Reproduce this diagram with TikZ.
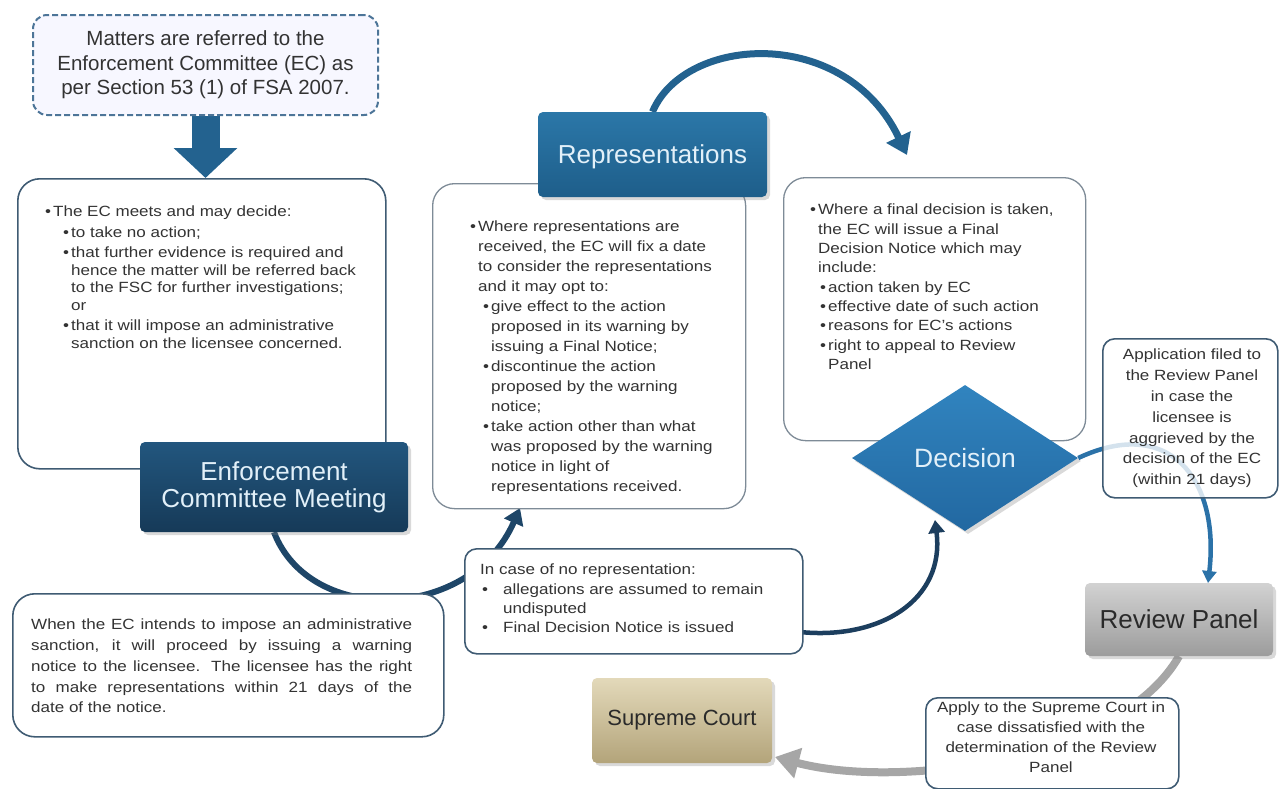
\documentclass[tikz,border=0pt]{standalone}
\usepackage{fontspec}
\setmainfont{Liberation Sans}
\newfontfamily\bodyfont[FakeStretch=1.15]{Liberation Sans}
\usetikzlibrary{arrows.meta, shapes.geometric, shadows, backgrounds}

\definecolor{framecol}{HTML}{3F5B73}
\definecolor{softframe}{HTML}{7E8B97}
\definecolor{dashcol}{HTML}{4D7598}
\definecolor{bodytext}{HTML}{333333}
\definecolor{pale}{HTML}{E2F0F9}
\definecolor{arcnavy}{HTML}{1E4668}
\definecolor{arcblue}{HTML}{23628F}
\definecolor{arcdeep}{HTML}{1C3E5E}
\definecolor{linkblue}{HTML}{2B72A8}
\definecolor{greyarc}{HTML}{A6A6A6}

\newcommand{\bul}{\textbullet\hspace{2pt}}
\newcommand{\wbul}{\makebox[23pt][l]{\hspace{2pt}\textbullet}}

\begin{document}
\begin{tikzpicture}[x=1pt,y=-1pt]
\tikzset{
  panel/.style={draw=framecol, line width=1.6pt, fill=white, rounded corners=22pt, anchor=north west, inner sep=0pt},
  softpanel/.style={panel, draw=softframe, line width=1.3pt},
  smallpanel/.style={panel, rounded corners=12pt},
  body/.style={font=\bodyfont\fontsize{14.8}{20}\selectfont, text=bodytext, align=left, inner sep=0pt, anchor=north west},
  heading/.style={font=\fontsize{26}{27}\selectfont, text=pale, align=center, rounded corners=5pt, inner sep=0pt,
    drop shadow={opacity=0.3, shadow xshift=3pt, shadow yshift=-3pt}},
  bigarrow/.style={line width=28pt, draw=arcblue, -{Triangle[width=62pt,length=30pt]}},
  arcone/.style={line width=6pt, draw=arcnavy, -{Triangle[width=20pt,length=16pt]}},
  arctop/.style={line width=7pt, draw=arcblue, -{Triangle[width=26pt,length=20pt]}},
  arcthree/.style={line width=4.5pt, draw=arcdeep, -{Triangle[width=16pt,length=13pt]}},
  declink/.style={line width=4.5pt, draw=linkblue, -{Triangle[width=14pt,length=12pt]}},
  greylink/.style={line width=8pt, draw=greyarc, -{Triangle[width=30pt,length=24pt]}}
}
\useasboundingbox (0,0) rectangle (1279,788);

\node[draw=dashcol, line width=2pt, dash pattern=on 6pt off 3pt, fill=blue!3, rounded corners=14pt,
  minimum width=345pt, minimum height=100pt, inner sep=0pt, text=bodytext, align=center,
  font=\fontsize{20.5}{24.5}\selectfont] (matters) at (205.5,65)
  {Matters are referred to the\\Enforcement Committee (EC) as\\per Section 53 (1) of FSA 2007.};

\node[panel, minimum width=368pt, minimum height=290pt] (ecbox) at (17,178) {};
\node[body, font=\bodyfont\fontsize{14.8}{17.5}\selectfont] (ectext) at (45,206)
  {\bul The EC meets and may decide:\\[3pt]
   \hspace*{18pt}\bul to take no action;\\[3pt]
   \hspace*{18pt}\bul that further evidence is required and\\
   \hspace*{26pt}hence the matter will be referred back\\
   \hspace*{26pt}to the FSC for further investigations;\\
   \hspace*{26pt}or\\[3pt]
   \hspace*{18pt}\bul that it will impose an administrative\\
   \hspace*{26pt}sanction on the licensee concerned.};

\node[softpanel, minimum width=313pt, minimum height=325pt] (repbox) at (432,183) {};
\node[body] (reptext) at (470,221)
  {\bul Where representations are\\
   \hspace*{8pt}received, the EC will fix a date\\
   \hspace*{8pt}to consider the representations\\
   \hspace*{8pt}and it may opt to:\\
   \hspace*{13pt}\bul give effect to the action\\
   \hspace*{21pt}proposed in its warning by\\
   \hspace*{21pt}issuing a Final Notice;\\
   \hspace*{13pt}\bul discontinue the action\\
   \hspace*{21pt}proposed by the warning\\
   \hspace*{21pt}notice;\\
   \hspace*{13pt}\bul take action other than what\\
   \hspace*{21pt}was proposed by the warning\\
   \hspace*{21pt}notice in light of\\
   \hspace*{21pt}representations received.};

\node[softpanel, minimum width=302pt, minimum height=263pt] (decbox) at (783,177) {};
\node[body, font=\bodyfont\fontsize{14.8}{19.3}\selectfont] (dectext) at (810,204)
  {\bul Where a final decision is taken,\\
   \hspace*{8pt}the EC will issue a Final\\
   \hspace*{8pt}Decision Notice which may\\
   \hspace*{8pt}include:\\
   \hspace*{10pt}\bul action taken by EC\\
   \hspace*{10pt}\bul effective date of such action\\
   \hspace*{10pt}\bul reasons for EC’s actions\\
   \hspace*{10pt}\bul right to appeal to Review\\
   \hspace*{18pt}Panel};

\node[panel, minimum width=431pt, minimum height=143pt] (warnbox) at (12,593) {};
\node[body, text width=381pt, align=justify, font=\bodyfont\fontsize{14.8}{20.7}\selectfont] (warntext) at (31,619)
  {When the EC intends to impose an administrative\linebreak
   sanction, it will proceed by issuing a warning\linebreak
   notice to the licensee. The licensee has the right\linebreak
   to make representations within 21 days of the\linebreak
   date of the notice.};

\node[smallpanel, minimum width=338pt, minimum height=105pt] (norep) at (464,548) {};
\node[body, font=\bodyfont\fontsize{14.8}{19.2}\selectfont] (noreptext) at (480,564)
  {In case of no representation:\\
   \wbul allegations are assumed to remain\\
   \hspace*{23pt}undisputed\\
   \wbul Final Decision Notice is issued};

\node[smallpanel, fill opacity=0.8, minimum width=175pt, minimum height=159pt] (appbox) at (1102,338) {};
\node[body, anchor=north, align=center, font=\bodyfont\fontsize{14.8}{20.8}\selectfont] (apptext) at (1192,349)
  {Application filed to\\the Review Panel\\in case the\\licensee is\\aggrieved by the\\decision of the EC\\(within 21 days)};

\node[smallpanel, minimum width=253pt, minimum height=91pt] (applybox) at (925,697) {};
\node[body, anchor=north, align=center, font=\bodyfont\fontsize{14.8}{19.7}\selectfont] (applytext) at (1051,702)
  {Apply to the Supreme Court in\\case dissatisfied with the\\determination of the Review\\Panel};

\node[heading, minimum width=268pt, minimum height=90pt,
  top color={rgb,255:red,34;green,86;blue,126}, bottom color={rgb,255:red,22;green,58;blue,88}] (ecm) at (274,487)
  {Enforcement\\Committee Meeting};
\node[heading, minimum width=229pt, minimum height=85pt, text depth=0pt,
  top color={rgb,255:red,43;green,119;blue,168}, bottom color={rgb,255:red,30;green,94;blue,138}] (reptitle) at (652.5,154.5)
  {Representations};
\node[heading, diamond, rounded corners=0pt, aspect=1.55, minimum width=226pt, minimum height=146pt,
  font=\fontsize{26.5}{28}\selectfont,
  top color={rgb,255:red,49;green,132;blue,191}, bottom color={rgb,255:red,34;green,104;blue,161}] (dec) at (965,458)
  {Decision};
\node[heading, text={rgb,255:red,42;green,42;blue,42}, minimum width=188pt, minimum height=73pt,
  top color={rgb,255:red,210;green,210;blue,210}, bottom color={rgb,255:red,156;green,156;blue,156}] (review) at (1179,619.5)
  {Review Panel};
\node[heading, text={rgb,255:red,42;green,42;blue,42}, font=\fontsize{22}{24}\selectfont, minimum width=180pt, minimum height=85pt,
  top color={rgb,255:red,227;green,217;blue,186}, bottom color={rgb,255:red,179;green,164;blue,122}] (court) at (682,720.5)
  {Supreme Court};

\coordinate (repin) at (520,508);
\coordinate (decin) at (907,155);
\coordinate (norepout) at (800,632);
\coordinate (diamin) at (935,520);
\coordinate (revin) at (1208,583);
\coordinate (courtin) at (775,757);

\begin{pgfonlayer}{background}
\draw[bigarrow] (matters.south) -- (matters.south |- ecbox.north);
\draw[arcone] (ecm.south) .. controls (310,626) and (470,622) .. (repin);
\draw[arctop] (reptitle.north) .. controls (685,35) and (845,25) .. (decin);
\draw[arcthree] (norepout) .. controls (880,640) and (945,600) .. (diamin);
\draw[declink] (dec.east) .. controls (1170,415) and (1220,480) .. (revin);
\draw[greylink] (review.south) .. controls (1120,760) and (900,790) .. (courtin);
\end{pgfonlayer}
\end{tikzpicture}
\end{document}
